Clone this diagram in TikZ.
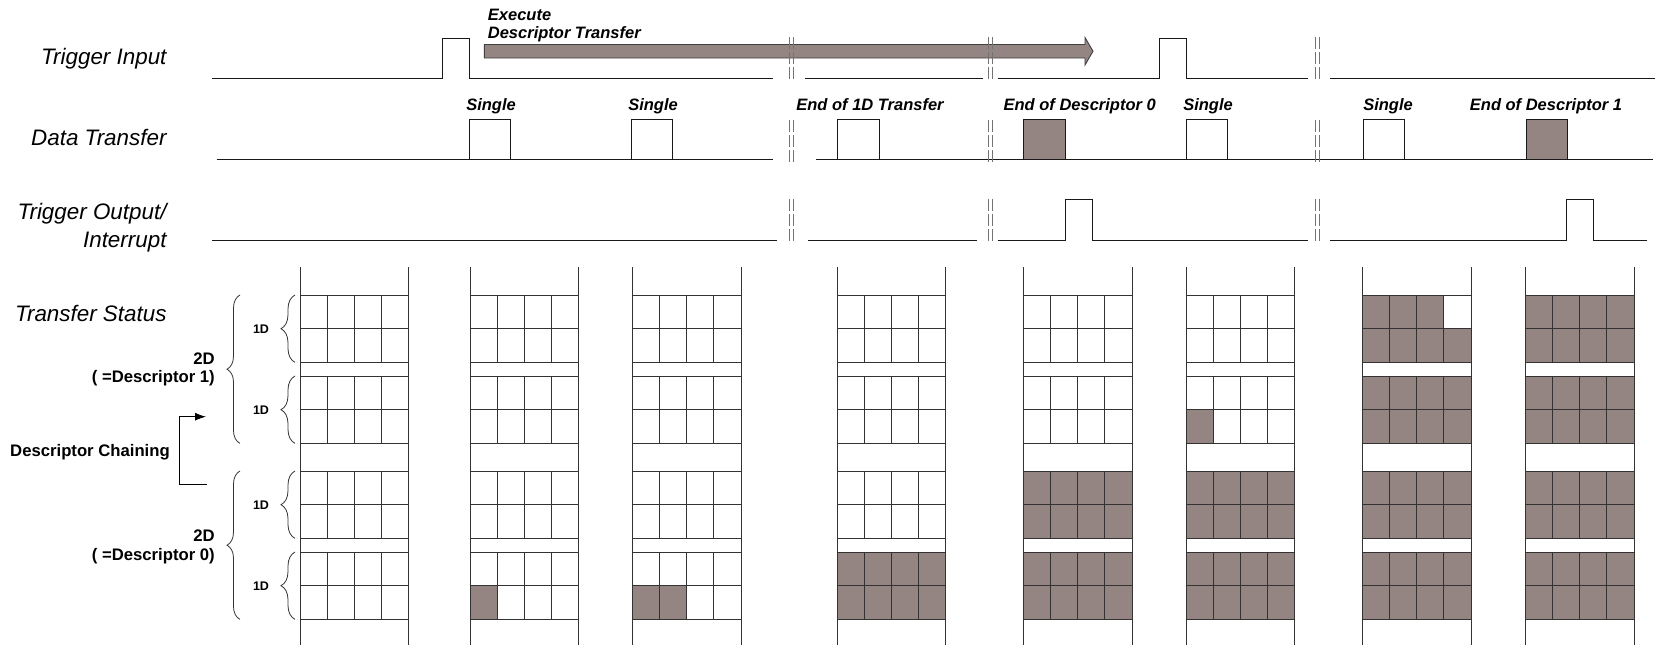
\documentclass[tikz,border=0pt]{standalone}
\usepackage{fontspec}
\setmainfont{Liberation Sans}
\usetikzlibrary{decorations.pathreplacing,arrows.meta}
\definecolor{fillc}{RGB}{148,132,130}
\begin{document}
\begin{tikzpicture}[x=1pt,y=-1pt,
  sig/.style={line width=1pt,black!90},
  brk/.style={line width=0.8pt,black!55,dash pattern=on 12pt off 3pt},
  grd/.style={line width=0.95pt,black!80},
  rowlab/.style={font=\fontsize{22.4}{25}\selectfont\itshape,anchor=base east,inner sep=0pt},
  evlab/.style={font=\fontsize{16.5}{18}\selectfont\bfseries\itshape,anchor=base,inner sep=0pt},
  boldlab/.style={font=\fontsize{16.7}{19}\selectfont\bfseries,anchor=base east,inner sep=0pt},
  dlab/.style={font=\fontsize{12.5}{14}\selectfont\bfseries,anchor=base,inner sep=0pt},
  brc/.style={line width=0.8pt,black!80,decorate,decoration={brace,amplitude=#1}},
]
\useasboundingbox[fill=white] (0,0) rectangle (1655,645);

% row labels
\node[rowlab] (ti) at (166.7,64) {Trigger Input};
\node[rowlab] (dt) at (166.7,145) {Data Transfer};
\node[rowlab] (to1) at (166.7,219) {Trigger Output/};
\node[rowlab] (to2) at (166.7,247.5) {Interrupt};
\node[rowlab] (ts) at (166.7,321.5) {Transfer Status};

% execute arrow
\filldraw[fill=fillc,draw=black!75,line width=0.9pt] (484.3,44.5) -- (1085,44.5) -- (1085,37.5) -- (1093,51.2) -- (1085,65) -- (1085,58) -- (484.3,58) -- cycle;
\node[evlab,anchor=base west] (ex1) at (487.7,20) {Execute};
\node[evlab,anchor=base west] (ex2) at (487.7,38) {Descriptor Transfer};

% trigger input
\draw[sig] (211.7,78) -- (442.3,78) -- (442.3,38) -- (469.3,38) -- (469.3,78) -- (773.3,78);
\draw[sig] (805,78) -- (983.3,78);
\draw[sig] (997.7,78) -- (1159.3,78) -- (1159.3,38) -- (1186.7,38) -- (1186.7,78) -- (1307.7,78);
\draw[sig] (1330,78) -- (1655,78);

% data transfer
\draw[sig] (216.7,159.5) -- (773.3,159.5);
\draw[sig] (816,159.5) -- (1652.7,159.5);
\foreach \bx in {469,631,837.7,1186,1363.3}
  \draw[sig] (\bx,159.5) -- (\bx,119) -- (\bx+41.5,119) -- (\bx+41.5,159.5);
\foreach \bx in {1023.5,1526}
  \filldraw[sig,fill=fillc] (\bx,159.5) rectangle (\bx+41.5,119);

% event labels
\node[evlab] (s1) at (491,110) {Single};
\node[evlab] (s2) at (653,110) {Single};
\node[evlab] (e1d) at (870,110) {End of 1D Transfer};
\node[evlab] (ed0) at (1079.7,110) {End of Descriptor 0};
\node[evlab] (s3) at (1208,110) {Single};
\node[evlab] (s4) at (1388,110) {Single};
\node[evlab] (ed1) at (1546,110) {End of Descriptor 1};

% trigger output
\draw[sig] (212.3,240.5) -- (776.7,240.5);
\draw[sig] (807.7,240.5) -- (977.3,240.5);
\draw[sig] (997.7,240.5) -- (1065,240.5) -- (1065,199.5) -- (1092.3,199.5) -- (1092.3,240.5) -- (1307.7,240.5);
\draw[sig] (1330,240.5) -- (1566,240.5) -- (1566,199.5) -- (1593.3,199.5) -- (1593.3,240.5) -- (1646.7,240.5);

% break marks
\foreach \bx in {789.3,988.3,1315.7}{
  \foreach \dx in {0,3.7}{
    \draw[brk] (\bx+\dx,37) -- (\bx+\dx,80);
    \draw[brk] (\bx+\dx,120) -- (\bx+\dx,162);
    \draw[brk] (\bx+\dx,198.5) -- (\bx+\dx,242);
  }
}

% transfer status fills: x0, y-top, x-end, y-bottom
\foreach \xa/\ya/\xb/\yb in {
  470/585.7/497.125/619.4,
  632.5/585.7/686.75/619.4,
  837/552/945.5/619.4,
  1023.5/471/1132/538.4, 1023.5/552/1132/619.4,
  1186/471/1294.5/538.4, 1186/552/1294.5/619.4, 1186/409.7/1213.125/443.4,
  1362.5/471/1471/538.4, 1362.5/552/1471/619.4, 1362.5/376/1471/443.4,
  1362.5/328.7/1471/362.4, 1362.5/295/1443.875/328.7,
  1525.5/295/1634/362.4, 1525.5/376/1634/443.4, 1525.5/471/1634/538.4, 1525.5/552/1634/619.4}
  \fill[fillc] (\xa,\ya) rectangle (\xb,\yb);

% grids
\foreach \cx in {300,470,632.5,837,1023.5,1186,1362.5,1525.5}{
  \draw[grd] (\cx,267) -- (\cx,645);
  \draw[grd] (\cx+108.5,267) -- (\cx+108.5,645);
  \foreach \t in {295,376,471,552}{
    \foreach \k in {0,1,2}
      \draw[grd] (\cx,\t+\k*33.7) -- (\cx+108.5,\t+\k*33.7);
    \foreach \k in {1,2,3}
      \draw[grd] (\cx+\k*27.125,\t) -- (\cx+\k*27.125,\t+67.4);
  }
}

% braces
\foreach \t/\n in {295/a,376/b,471/c,552/d}{
  \draw[brc=14pt] (295,\t+67.4) -- (295,\t);
  \node[dlab] (oned\n) at (261,\t+33.7+4.5) {1D};
}
\draw[brc=13pt] (240,443.4) -- (240,295);
\draw[brc=13pt] (240,619.4) -- (240,471);

\node[boldlab] (twod1) at (215,364) {2D};
\node[boldlab] (desc1) at (215,382) {( =Descriptor 1)};
\node[boldlab] (twod0) at (215,541) {2D};
\node[boldlab] (desc0) at (215,560) {( =Descriptor 0)};
\node[boldlab,anchor=base west] (chain) at (10,456.5) {Descriptor Chaining};

\coordinate (cha) at (206.7,484.3);
\coordinate (chb) at (206,416.7);
\draw[line width=0.9pt,-{Latex[length=11pt,width=8pt]}] (cha) -- (179,484.3) -- (179,416.7) -- (chb);

\end{tikzpicture}
\end{document}
